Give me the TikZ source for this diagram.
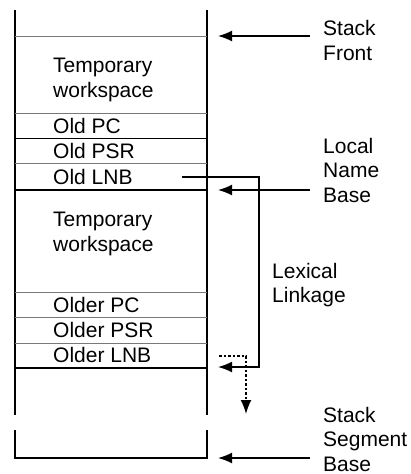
\documentclass[tikz,border=0pt]{standalone}
\usepackage{fontspec}
\setmainfont{Liberation Sans}
\usetikzlibrary{arrows.meta,positioning}
\definecolor{rulegray}{RGB}{120,120,120}

\begin{document}
\begin{tikzpicture}[x=1pt,y=-1pt,
  cell/.style={anchor=west,inner sep=0pt,align=left,font=\fontsize{21}{24.5}\selectfont},
  tag/.style={anchor=west,inner sep=0pt,align=left,font=\fontsize{21}{24.5}\selectfont},
  side/.style={line width=1.4pt},
  thinrule/.style={rulegray,line width=1pt},
  framerule/.style={line width=1.8pt},
  ptr/.style={line width=1.6pt,-{Latex[length=14pt,width=11pt]}},
  dotptr/.style={line width=1.6pt,dash pattern=on 2.5pt off 2pt,-{Latex[length=14pt,width=11pt]}}]
  \useasboundingbox (0,0) rectangle (411,474);
  % Stack sides, broken near the base
  \draw[side] (15,10) -- (15,415);
  \draw[side] (207,10) -- (207,415);
  \draw[side] (15,430) -- (15,458) -- (207,458) -- (207,430);
  % Rules between the cells
  \foreach \y in {36,113,163,292,317,343}
    \draw[thinrule] (15,\y) -- (207,\y);
  \draw[line width=1pt] (15,138) -- (207,138);
  \draw[framerule] (15,190) -- (207,190);
  \draw[framerule] (15,368) -- (207,368);
  % Cell contents
  \node[cell] (tws1) at (53,80) {Temporary\\workspace};
  \node[cell] (opc) at (53,126) {Old PC};
  \node[cell] (opsr) at (53,151) {Old PSR};
  \node[cell] (olnb) at (53,177) {Old LNB};
  \node[cell] (tws2) at (53,234) {Temporary\\workspace};
  \node[cell] (olderpc) at (53,305) {Older PC};
  \node[cell] (olderpsr) at (53,330) {Older PSR};
  \node[cell] (olderlnb) at (53,355) {Older LNB};
  % Labels on the right
  \node[tag] (front) at (323,40.5) {Stack\\Front};
  \node[tag] (lnbtag) at (323,170) {Local\\Name\\Base};
  \node[tag] (lexical) at (272,285) {Lexical\\Linkage};
  \node[tag] (segbase) at (323,439) {Stack\\Segment\\Base};
  % Pointer ends
  \coordinate (front-tail) at (310,36);
  \coordinate (front-tip) at (218,36);
  \coordinate (lnb-tail) at (310,190);
  \coordinate (lnb-tip) at (218,190);
  \coordinate (base-tail) at (310,458);
  \coordinate (base-tip) at (218,458);
  \coordinate (link-from) at (182,177);
  \coordinate (link-tip) at (218,367);
  \coordinate (next-from) at (219,356);
  \coordinate (next-tip) at (246,414);
  % Pointers
  \draw[ptr] (front-tail) -- (front-tip);
  \draw[ptr] (lnb-tail) -- (lnb-tip);
  \draw[ptr] (base-tail) -- (base-tip);
  \draw[ptr] (link-from) -- (259,177) |- (link-tip);
  \draw[dotptr] (next-from) -| (next-tip);
\end{tikzpicture}
\end{document}
